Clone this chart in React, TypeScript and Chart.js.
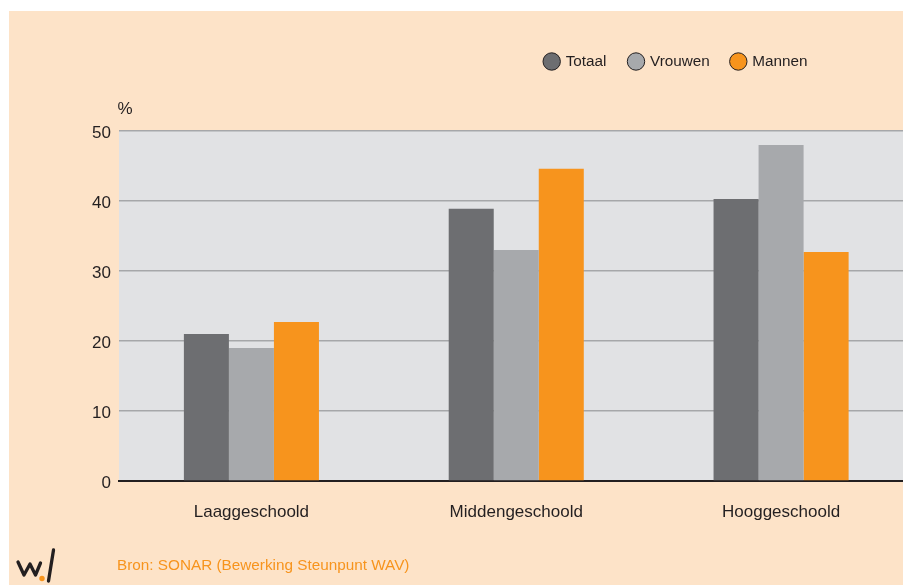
import React, { useEffect, useRef } from "react";
import { Chart, registerables } from "chart.js";

Chart.register(...registerables);

const categories = ["Laaggeschoold", "Middengeschoold", "Hooggeschoold"];
const seriesNames = ["Totaal", "Vrouwen", "Mannen"];
const totaal = [21.0, 38.9, 40.3];
const vrouwen = [19.0, 33.0, 48.0];
const mannen = [22.7, 44.6, 32.7];
const yTicks = [0, 10, 20, 30, 40, 50];
const sourceText = "Bron: SONAR (Bewerking Steunpunt WAV)";
const yUnit = "%";

const COLORS = ["#6D6E71", "#A7A9AC", "#F7941D"];
const PEACH = "#FDE3C8";
const PLOT_BG = "#E1E2E4";
const GRID = "#A6A7A9";
const TEXT = "#231F20";
const FONT = "'Liberation Sans', Arial, Helvetica, sans-serif";

const decorPlugin = {
  id: "decor",
  beforeDraw(chart: any) {
    const ctx = chart.ctx;
    const { left, top, right, bottom } = chart.chartArea;
    ctx.save();
    ctx.fillStyle = "#FFFFFF";
    ctx.fillRect(0, 0, chart.width, chart.height);
    ctx.fillStyle = PEACH;
    ctx.fillRect(9, 11, chart.width - 9, chart.height - 11);
    ctx.fillStyle = PLOT_BG;
    ctx.fillRect(left, top, right - left, bottom - top);
    ctx.restore();
  },
  afterDraw(chart: any) {
    const ctx = chart.ctx;
    ctx.save();
    // legend
    const centers = [551.7, 636, 738.3];
    chart.data.datasets.forEach((ds: any, i: number) => {
      const cx = centers[i];
      const cy = 61.5;
      ctx.beginPath();
      ctx.arc(cx, cy, 8.7, 0, Math.PI * 2);
      ctx.fillStyle = ds.backgroundColor;
      ctx.fill();
      ctx.lineWidth = 1;
      ctx.strokeStyle = TEXT;
      ctx.stroke();
      ctx.fillStyle = TEXT;
      ctx.font = `15.3px ${FONT}`;
      ctx.textAlign = "left";
      ctx.textBaseline = "middle";
      ctx.fillText(ds.label, cx + 14, cy + 0.5);
    });
    // unit label
    ctx.fillStyle = TEXT;
    ctx.font = `17px ${FONT}`;
    ctx.textAlign = "center";
    ctx.textBaseline = "middle";
    ctx.fillText(yUnit, 125, 109);
    // source
    ctx.fillStyle = "#F7941D";
    ctx.font = `15.3px ${FONT}`;
    ctx.textAlign = "left";
    ctx.fillText(sourceText, 117, 566);
    // logo
    ctx.strokeStyle = "#231F20";
    ctx.lineWidth = 3.3;
    ctx.lineJoin = "round";
    ctx.lineCap = "round";
    ctx.beginPath();
    ctx.moveTo(18, 562);
    ctx.lineTo(24, 575);
    ctx.lineTo(30, 564);
    ctx.lineTo(35.5, 575);
    ctx.lineTo(40.5, 563);
    ctx.stroke();
    ctx.beginPath();
    ctx.moveTo(48.5, 581);
    ctx.lineTo(53.5, 550);
    ctx.stroke();
    ctx.beginPath();
    ctx.arc(42, 578.5, 2.7, 0, Math.PI * 2);
    ctx.fillStyle = "#F7941D";
    ctx.fill();
    ctx.restore();
  },
};

export default function App() {
  const ref = useRef<HTMLCanvasElement | null>(null);
  useEffect(() => {
    if (!ref.current) return;
    const series = [totaal, vrouwen, mannen];
    const chart = new Chart(ref.current, {
      type: "bar",
      data: {
        labels: categories,
        datasets: seriesNames.map((name, i) => ({
          label: name,
          data: series[i],
          backgroundColor: COLORS[i],
          borderWidth: 0,
          categoryPercentage: 0.51,
          barPercentage: 1,
        })),
      },
      options: {
        responsive: false,
        animation: false,
        devicePixelRatio: 1,
        layout: { padding: { left: 0, top: 131, right: 6.5, bottom: 0 } },
        plugins: {
          legend: { display: false },
          title: { display: false },
          tooltip: { enabled: false },
        },
        scales: {
          x: {
            grid: { display: false },
            border: { display: true, color: TEXT, width: 2 },
            ticks: {
              color: TEXT,
              font: { family: FONT, size: 17 },
              padding: 13,
              maxRotation: 0,
            },
            afterFit: (scale: any) => {
              scale.height = 104;
            },
          },
          y: {
            min: 0,
            max: 50,
            afterBuildTicks: (scale: any) => {
              scale.ticks = yTicks.map((v) => ({ value: v }));
            },
            grid: { color: GRID, lineWidth: 1.6, drawTicks: false },
            border: { display: false },
            ticks: {
              color: TEXT,
              font: { family: FONT, size: 17 },
              padding: 8,
              labelOffset: 2,
            },
            afterFit: (scale: any) => {
              scale.width = 119;
            },
          },
        },
      },
      plugins: [decorPlugin],
    });
    return () => chart.destroy();
  }, []);
  return (
    <div
      style={{
        position: "fixed",
        left: 0,
        top: 0,
        width: 903,
        height: 585,
        overflow: "hidden",
        background: "#fff",
      }}
    >
      <canvas ref={ref} width={920} height={585} style={{ width: 920, height: 585, display: "block" }} />
    </div>
  );
}
